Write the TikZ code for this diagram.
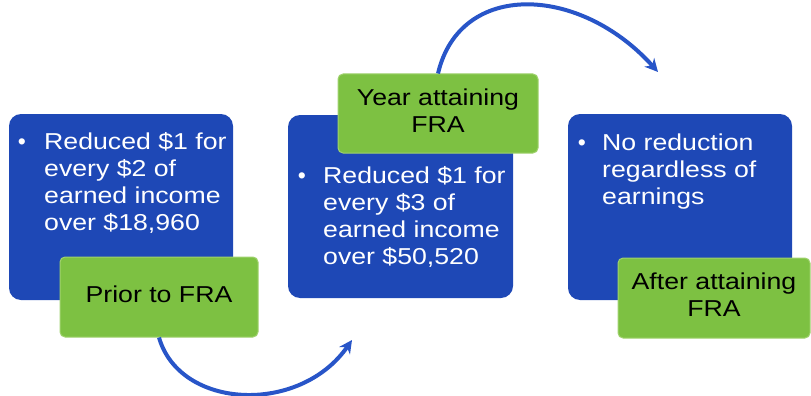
\documentclass[tikz,border=0pt]{standalone}
\usepackage{fontspec}
\usepackage{graphicx}
\setmainfont{Liberation Sans}
\usetikzlibrary{arrows.meta}
\definecolor{boxblue}{RGB}{30,72,182}
\definecolor{boxgreen}{RGB}{125,193,66}
\definecolor{greenedge}{RGB}{160,210,110}
\definecolor{arrowblue}{RGB}{40,85,200}
\newcommand{\wideText}[2]{\scalebox{1.16}[1]{\begin{tabular}{@{}#1@{}}#2\end{tabular}}}
\tikzset{
  bluebox/.style={fill=boxblue, rounded corners=12pt, inner sep=0pt},
  greenbox/.style={fill=boxgreen, draw=greenedge, line width=1pt, rounded corners=5pt, inner sep=0pt, text=black},
  bodytext/.style={text=white, inner sep=0pt, anchor=north west},
  bulletmark/.style={text=white, inner sep=0pt, anchor=base},
  flowarrow/.style={draw=arrowblue, line width=4pt, -{Stealth[length=13pt,width=13pt]}},
}
\begin{document}
\begin{tikzpicture}[x=1pt,y=-1pt,font=\fontsize{23}{27}\selectfont]
\useasboundingbox (0,0) rectangle (811,396);
% blue boxes
\node[bluebox, minimum width=224pt, minimum height=186pt] (b1) at (121,207) {};
\node[bluebox, minimum width=225pt, minimum height=183pt] (b2) at (400.5,206.5) {};
\node[bluebox, minimum width=224pt, minimum height=186pt] (b3) at (680,207) {};
% texts in blue boxes
\node[bulletmark] (d1) at (22,149) {•};
\node[bodytext] (t1) at (44,130) {\wideText{l}{Reduced \$1 for\\every \$2 of\\earned income\\over \$18,960}};
\node[bulletmark] (d2) at (302,183) {•};
\node[bodytext] (t2) at (323,164) {\wideText{l}{Reduced \$1 for\\every \$3 of\\earned income\\over \$50,520}};
\node[bulletmark] (d3) at (582,150) {•};
\node[bodytext] (t3) at (602,131) {\wideText{l}{No reduction\\regardless of\\earnings}};
% green boxes
\node[greenbox, minimum width=198pt, minimum height=80pt] (g1) at (159,297) {\wideText{c}{Prior to FRA}};
\node[greenbox, minimum width=200pt, minimum height=79pt] (g2) at (438,113.5) {\raisebox{-2pt}{\wideText{c}{Year attaining\\FRA}}};
\node[greenbox, minimum width=192pt, minimum height=80pt] (g3) at (714,298) {\raisebox{-2pt}{\wideText{c}{After attaining\\FRA}}};
% arrows
\coordinate (e1) at (352,340);
\coordinate (e2) at (658,72);
\draw[flowarrow] (g1.south) .. controls (180,410) and (300,415) .. (e1);
\draw[flowarrow] (g2.north) .. controls (460,-20) and (580,-15) .. (e2);
\end{tikzpicture}
\end{document}
